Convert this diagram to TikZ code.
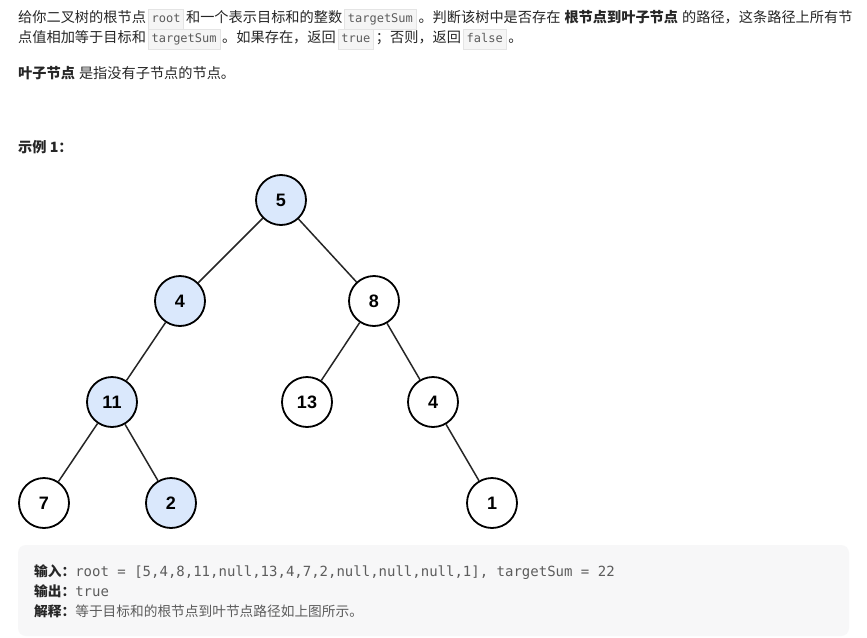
\documentclass[tikz,border=0pt]{standalone}
\usepackage{fontspec}
\setmainfont{Noto Sans CJK SC}
\newfontfamily\monof{DejaVu Sans Mono}
\newfontfamily\numf{Liberation Sans}
\definecolor{nodeblue}{HTML}{DAE8FC}
\definecolor{codebg}{HTML}{F5F5F5}
\definecolor{codeline}{HTML}{E4E4E4}
\definecolor{codetxt}{HTML}{5C5C5C}
\definecolor{boxbg}{HTML}{F7F7F8}
\definecolor{txt}{HTML}{262626}
\newcommand\cbox[1]{{\setlength\fboxsep{3pt}\setlength\fboxrule{0.6pt}\fcolorbox{codeline}{codebg}{\fontsize{12}{14}\monof\color{codetxt}\strut #1}}}
\tikzset{
  treenode/.style={circle, draw=black, line width=1.8pt, minimum size=50pt, inner sep=0pt, font=\numf\bfseries\fontsize{18}{20}\selectfont},
  hl/.style={treenode, fill=nodeblue},
  plain/.style={treenode, fill=white},
  para/.style={anchor=base west, inner sep=0pt, text=txt, font=\fontsize{14.2}{16}\selectfont},
  outl/.style={anchor=base west, inner sep=0pt, text=txt, font=\fontsize{13.7}{16}\selectfont},
  edge/.style={draw=black!85, line width=1.5pt}
}
\begin{document}
\begin{tikzpicture}[x=1pt,y=-1pt]
\useasboundingbox (0,0) rectangle (867,637);
\fill[white] (0,0) rectangle (867,637);
\node[para] (l1) at (18,22) {给你二叉树的根节点\hspace{2pt}\cbox{root}\hspace{2pt}和一个表示目标和的整数\hspace{2pt}\cbox{targetSum}\hspace{2pt}。判断该树中是否存在\hspace{4pt}\textbf{根节点到叶子节点}\hspace{4pt}的路径，这条路径上所有节};
\node[para] (l2) at (18,42) {点值相加等于目标和\hspace{2pt}\cbox{targetSum}\hspace{2pt}。如果存在，返回\hspace{2pt}\cbox{true}\hspace{2pt}；否则，返回\hspace{2pt}\cbox{false}\hspace{2pt}。};
\node[para] (l3) at (18,78) {\textbf{叶子节点}\hspace{4pt}是指没有子节点的节点。};
\node[para] (l4) at (18,152) {\textbf{示例 1：}};

\node[hl] (n5) at (281,200) {5};
\node[hl] (n4) at (180,301) {4};
\node[plain] (n8) at (374,301) {8};
\node[hl] (n11) at (112,402) {11};
\node[plain] (n13) at (307,402) {13};
\node[plain] (n4b) at (433,402) {4};
\node[plain] (n7) at (44,503) {7};
\node[hl] (n2) at (171,503) {2};
\node[plain] (n1) at (492,503) {1};
\draw[edge] (n5) -- (n4);
\draw[edge] (n5) -- (n8);
\draw[edge] (n4) -- (n11);
\draw[edge] (n8) -- (n13);
\draw[edge] (n8) -- (n4b);
\draw[edge] (n11) -- (n7);
\draw[edge] (n11) -- (n2);
\draw[edge] (n4b) -- (n1);

\fill[boxbg, rounded corners=8pt] (18,545) rectangle (849,636);
\node[outl] (o1) at (34,576) {\textbf{输入：}{\fontsize{14}{16}\monof\color{codetxt}root = [5,4,8,11,null,13,4,7,2,null,null,null,1], targetSum = 22}};
\node[outl] (o2) at (34,596) {\textbf{输出：}{\fontsize{14}{16}\monof\color{codetxt}true}};
\node[outl] (o3) at (34,616) {\textbf{解释：}{\color{codetxt}等于目标和的根节点到叶节点路径如上图所示。}};
\end{tikzpicture}
\end{document}
